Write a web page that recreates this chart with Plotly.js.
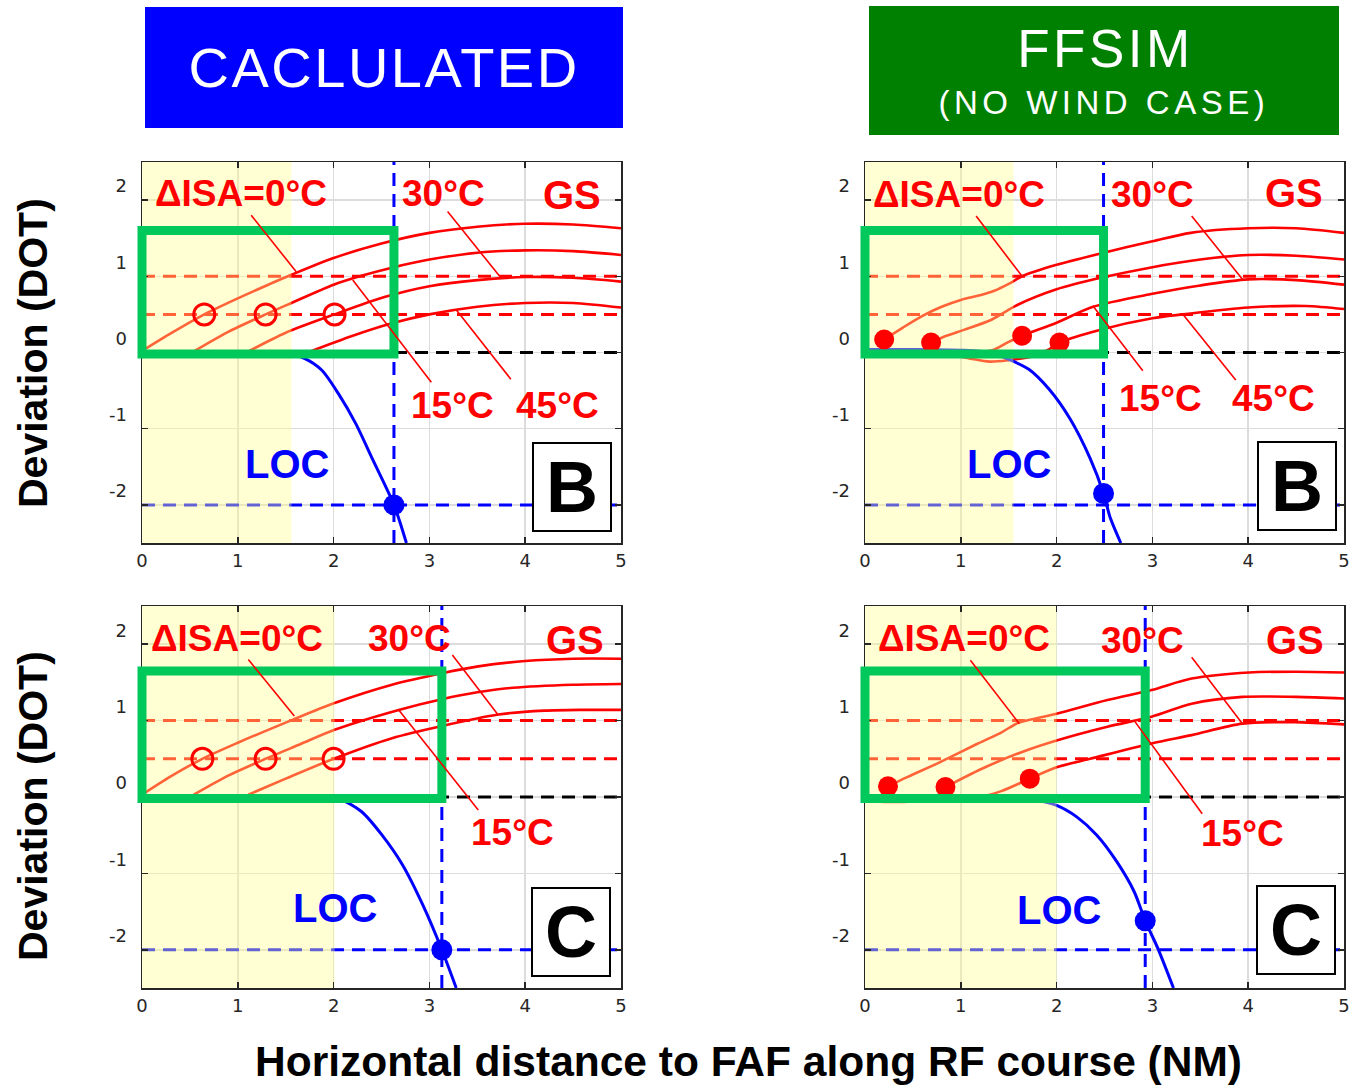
<!DOCTYPE html>
<html>
<head>
<meta charset="utf-8">
<script src="https://cdn.plot.ly/plotly-3.0.1.min.js"></script>
<style>
html, body { margin: 0; padding: 0; background: #ffffff; }
#chart { width: 1353px; height: 1087px; }
.annotation[data-index="0"] .annotation-text { letter-spacing: 2.5px; }
.annotation[data-index="1"] .annotation-text { letter-spacing: 3.5px; }
.annotation[data-index="2"] .annotation-text { letter-spacing: 4.5px; }
</style>
</head>
<body>
<div id="chart"></div>
<script>
// ---------------- DATA ----------------
const xTickVals = [0, 1, 2, 3, 4, 5];
const yTickVals = [-2, -1, 0, 1, 2];
const xRange = [0, 5];
const yRange = [-2.5, 2.5];
const gsRefLevels = [1.0, 0.5];   // red dashed GS reference levels (DOT)
const gsNullLevel = 0;            // black dashed
const locRefLevel = -2;           // blue dashed

// Panel B, calculated
const calcB_isa0_x  = [0, 0.3, 0.65, 1.0, 1.3, 1.56, 2.0, 2.5, 3.0, 3.5, 4.0, 4.5, 5.0];
const calcB_isa0_y  = [0.02, 0.25, 0.5, 0.71, 0.88, 1.02, 1.24, 1.43, 1.57, 1.65, 1.69, 1.68, 1.63];
const calcB_isa15_x = [0.55, 0.9, 1.29, 1.56, 2.0, 2.3, 2.63, 3.0, 3.5, 4.0, 4.5, 5.0];
const calcB_isa15_y = [0.02, 0.27, 0.5, 0.65, 0.89, 1.01, 1.12, 1.22, 1.31, 1.34, 1.33, 1.28];
const calcB_isa30_x = [1.12, 1.5, 2.01, 2.54, 3.0, 3.5, 4.0, 4.5, 5.0];
const calcB_isa30_y = [0.02, 0.26, 0.5, 0.73, 0.87, 0.95, 0.99, 0.98, 0.93];
const calcB_isa45_x = [1.77, 2.2, 2.6, 3.0, 3.5, 4.0, 4.5, 5.0];
const calcB_isa45_y = [0.02, 0.22, 0.38, 0.5, 0.6, 0.65, 0.65, 0.59];
const calcB_loc_x   = [0, 0.8, 1.5, 1.7, 1.875, 2.05, 2.23, 2.41, 2.63, 2.76];
const calcB_loc_y   = [0, 0, -0.01, -0.08, -0.23, -0.54, -0.93, -1.41, -2.0, -2.5];
const calcB_fix_x   = [2.63];
const calcB_fix_y   = [-2.0];
const calcB_mark_x  = [0.65, 1.29, 2.01];
const calcB_mark_y  = [0.5, 0.5, 0.5];
const calcB_yellowEnd = 1.56;
const calcB_boxTop = 1.6;

// Panel B, FFSIM
const simB_isa0_x  = [0.2, 0.4, 0.6, 0.8, 1.0, 1.2, 1.35, 1.5, 1.64, 2.0, 2.46, 3.0, 3.4, 4.0, 4.5, 5.0];
const simB_isa0_y  = [0.17, 0.33, 0.48, 0.6, 0.69, 0.75, 0.81, 0.9, 1.0, 1.15, 1.3, 1.46, 1.57, 1.63, 1.63, 1.57];
const simB_isa15_x = [0.69, 0.85, 1.04, 1.32, 1.6, 2.0, 2.46, 3.0, 3.5, 4.0, 4.5, 5.0];
const simB_isa15_y = [0.13, 0.22, 0.3, 0.43, 0.63, 0.83, 0.98, 1.12, 1.22, 1.28, 1.27, 1.22];
const simB_isa30_x = [0.6, 1.0, 1.33, 1.5, 1.64, 2.0, 2.38, 3.0, 3.5, 4.0, 4.5, 5.0];
const simB_isa30_y = [0.0, 0.0, 0.03, 0.14, 0.22, 0.39, 0.6, 0.77, 0.88, 0.96, 0.95, 0.89];
const simB_isa45_x = [0.9, 1.1, 1.3, 1.5, 1.75, 1.92, 2.03, 2.46, 3.0, 3.32, 4.0, 4.6, 5.0];
const simB_isa45_y = [-0.03, -0.08, -0.12, -0.1, -0.05, 0.04, 0.13, 0.3, 0.45, 0.5, 0.59, 0.61, 0.57];
const simB_loc_x   = [0, 0.5, 1.0, 1.3, 1.5, 1.71, 1.92, 2.14, 2.35, 2.49, 2.56, 2.67];
const simB_loc_y   = [0.04, 0.04, 0.03, 0.0, -0.09, -0.22, -0.48, -0.87, -1.39, -1.85, -2.17, -2.5];
const simB_fix_x   = [2.49];
const simB_fix_y   = [-1.85];
const simB_mark_x  = [0.2, 0.69, 1.64, 2.03];
const simB_mark_y  = [0.17, 0.13, 0.22, 0.13];
const simB_yellowEnd = 1.55;
const simB_boxTop = 1.6;

// Panel C, calculated
const calcC_isa0_x  = [0, 0.3, 0.63, 1.0, 1.57, 2.01, 2.61, 3.13, 3.51, 4.0, 4.5, 5.0];
const calcC_isa0_y  = [0.03, 0.27, 0.5, 0.71, 1.01, 1.23, 1.47, 1.62, 1.71, 1.78, 1.81, 1.81];
const calcC_isa15_x = [0.54, 0.9, 1.29, 1.65, 2.01, 2.68, 3.13, 3.5, 3.87, 4.5, 5.0];
const calcC_isa15_y = [0.03, 0.28, 0.5, 0.69, 0.88, 1.14, 1.28, 1.37, 1.43, 1.47, 1.48];
const calcC_isa30_x = [1.11, 1.5, 2.0, 2.61, 3.13, 3.72, 4.2, 4.59, 5.0];
const calcC_isa30_y = [0.03, 0.24, 0.5, 0.77, 0.93, 1.08, 1.13, 1.14, 1.14];
const calcC_loc_x   = [0, 1.0, 1.9, 2.07, 2.29, 2.5, 2.72, 2.93, 3.13, 3.28];
const calcC_loc_y   = [0, 0, 0, -0.03, -0.19, -0.49, -0.89, -1.41, -2.0, -2.5];
const calcC_fix_x   = [3.13];
const calcC_fix_y   = [-2.0];
const calcC_mark_x  = [0.63, 1.29, 2.0];
const calcC_mark_y  = [0.5, 0.5, 0.5];
const calcC_yellowEnd = 2.01;
const calcC_boxTop = 1.65;

// Panel C, FFSIM
const simC_isa0_x  = [0.24, 0.44, 0.79, 1.18, 1.43, 1.6, 2.0, 2.53, 2.99, 3.41, 4.01, 4.5, 5.0];
const simC_isa0_y  = [0.14, 0.26, 0.46, 0.7, 0.85, 0.97, 1.09, 1.27, 1.4, 1.55, 1.63, 1.64, 1.63];
const simC_isa15_x = [0.84, 1.22, 1.64, 2.0, 2.53, 2.99, 3.41, 3.94, 4.5, 5.0];
const simC_isa15_y = [0.13, 0.37, 0.59, 0.74, 0.92, 1.05, 1.22, 1.31, 1.31, 1.29];
const simC_isa30_x = [0, 0.2, 0.45, 0.8, 1.2, 1.43, 1.72, 2.0, 2.35, 2.99, 3.41, 3.94, 4.48, 5.0];
const simC_isa30_y = [-0.04, -0.065, -0.06, -0.03, 0.0, 0.08, 0.24, 0.39, 0.5, 0.7, 0.81, 0.96, 0.98, 0.95];
const simC_loc_x   = [0, 1.0, 1.6, 1.78, 2.0, 2.21, 2.42, 2.63, 2.81, 2.925, 3.06, 3.22];
const simC_loc_y   = [0, 0, -0.02, -0.04, -0.11, -0.26, -0.5, -0.85, -1.24, -1.62, -1.99, -2.5];
const simC_fix_x   = [2.925];
const simC_fix_y   = [-1.62];
const simC_mark_x  = [0.24, 0.84, 1.72];
const simC_mark_y  = [0.14, 0.13, 0.24];
const simC_yellowEnd = 2.0;
const simC_boxTop = 1.65;

const headerLeft = 'CACLULATED';
const headerRight = 'FFSIM';
const headerRightSub = '(NO WIND CASE)';
const yTitle = 'Deviation (DOT)';
const xTitle = 'Horizontal distance to FAF along RF course (NM)';

// ---------------- LAYOUT HELPERS ----------------
const W = 1353, H = 1087;
const colDomains = [[142 / W, 621 / W], [865 / W, 1344 / W]];
const rowDomains = [[1 - 543 / H, 1 - 162 / H], [1 - 988 / H, 1 - 606 / H]];

const RED = '#ff0000', SALMON_OVERLAY = 'rgba(255,255,141,0.39)';
const BLUE = '#0000ff', GREEN = 'rgb(0,200,90)';
const LBL_FONT = 'Liberation Sans, Arial, sans-serif';

const panels = [
  { ax: 1, col: 0, row: 0, letter: 'B', open: true,
    gs: [[calcB_isa0_x, calcB_isa0_y], [calcB_isa15_x, calcB_isa15_y], [calcB_isa30_x, calcB_isa30_y], [calcB_isa45_x, calcB_isa45_y]],
    loc: [calcB_loc_x, calcB_loc_y], fix: [calcB_fix_x, calcB_fix_y], mark: [calcB_mark_x, calcB_mark_y],
    yellowEnd: calcB_yellowEnd, boxTop: calcB_boxTop,
    labels: { isa0: [1.03, 2.09], t15: [3.24, -0.69], t30: [3.15, 2.09], t45: [4.34, -0.69], gs: [4.49, 2.07], loc: [1.51, -1.46], box: [4.49, -1.77] },
    pointers: [[1.14, 1.80, 1.61, 1.06], [3.19, 1.85, 3.74, 0.99], [2.2, 0.95, 3.02, -0.39], [3.28, 0.56, 3.85, -0.35]] },
  { ax: 2, col: 1, row: 0, letter: 'B', open: false,
    gs: [[simB_isa0_x, simB_isa0_y], [simB_isa15_x, simB_isa15_y], [simB_isa30_x, simB_isa30_y], [simB_isa45_x, simB_isa45_y]],
    loc: [simB_loc_x, simB_loc_y], fix: [simB_fix_x, simB_fix_y], mark: [simB_mark_x, simB_mark_y],
    yellowEnd: simB_yellowEnd, boxTop: simB_boxTop,
    labels: { isa0: [0.985, 2.07], t15: [3.08, -0.61], t30: [3.0, 2.07], t45: [4.26, -0.61], gs: [4.48, 2.09], loc: [1.5, -1.46], box: [4.51, -1.755] },
    pointers: [[1.16, 1.79, 1.64, 1.0], [3.41, 1.79, 3.94, 0.96], [2.38, 0.61, 2.9, -0.24], [3.32, 0.5, 3.87, -0.36]] },
  { ax: 3, col: 0, row: 1, letter: 'C', open: true,
    gs: [[calcC_isa0_x, calcC_isa0_y], [calcC_isa15_x, calcC_isa15_y], [calcC_isa30_x, calcC_isa30_y]],
    loc: [calcC_loc_x, calcC_loc_y], fix: [calcC_fix_x, calcC_fix_y], mark: [calcC_mark_x, calcC_mark_y],
    yellowEnd: calcC_yellowEnd, boxTop: calcC_boxTop,
    labels: { isa0: [0.99, 2.08], t15: [3.87, -0.47], t30: [2.79, 2.08], gs: [4.52, 2.06], loc: [2.01, -1.45], box: [4.48, -1.765] },
    pointers: [[1.11, 1.80, 1.59, 1.06], [3.24, 1.86, 3.72, 1.07], [2.68, 1.14, 3.51, -0.17]] },
  { ax: 4, col: 1, row: 1, letter: 'C', open: false,
    gs: [[simC_isa0_x, simC_isa0_y], [simC_isa15_x, simC_isa15_y], [simC_isa30_x, simC_isa30_y]],
    loc: [simC_loc_x, simC_loc_y], fix: [simC_fix_x, simC_fix_y], mark: [simC_mark_x, simC_mark_y],
    yellowEnd: simC_yellowEnd, boxTop: simC_boxTop,
    labels: { isa0: [1.03, 2.07], t15: [3.94, -0.48], t30: [2.9, 2.05], gs: [4.49, 2.05], loc: [2.02, -1.48], box: [4.5, -1.745] },
    pointers: [[1.10, 1.79, 1.61, 0.96], [3.41, 1.83, 3.94, 0.96], [2.81, 1.0, 3.52, -0.22]] }
];

function toPaper(p, x, y) {
  const dx = colDomains[p.col], dy = rowDomains[p.row];
  return [dx[0] + (x - xRange[0]) / (xRange[1] - xRange[0]) * (dx[1] - dx[0]),
          dy[0] + (y - yRange[0]) / (yRange[1] - yRange[0]) * (dy[1] - dy[0])];
}

const traces = [];
const shapes = [];
const annotations = [];

// header annotations first (indices 0..2 used by CSS letter spacing)
annotations.push({ xref: 'paper', yref: 'paper', x: 384 / W, y: 1 - 67 / H, text: headerLeft, showarrow: false,
  xanchor: 'center', yanchor: 'middle', font: { family: LBL_FONT, size: 56, color: '#ffffff' } });
annotations.push({ xref: 'paper', yref: 'paper', x: 1105 / W, y: 1 - 48 / H, text: headerRight, showarrow: false,
  xanchor: 'center', yanchor: 'middle', font: { family: LBL_FONT, size: 53, color: '#ffffff' } });
annotations.push({ xref: 'paper', yref: 'paper', x: 1104 / W, y: 1 - 102 / H, text: headerRightSub, showarrow: false,
  xanchor: 'center', yanchor: 'middle', font: { family: LBL_FONT, size: 33, color: '#ffffff' } });
annotations.push({ xref: 'paper', yref: 'paper', x: 33 / W, y: 1 - 353 / H, text: yTitle, showarrow: false, textangle: -90,
  xanchor: 'center', yanchor: 'middle', font: { family: LBL_FONT, size: 41, color: '#000000', weight: 'bold' } });
annotations.push({ xref: 'paper', yref: 'paper', x: 33 / W, y: 1 - 806 / H, text: yTitle, showarrow: false, textangle: -90,
  xanchor: 'center', yanchor: 'middle', font: { family: LBL_FONT, size: 41, color: '#000000', weight: 'bold' } });
annotations.push({ xref: 'paper', yref: 'paper', x: 748 / W, y: 1 - 1061 / H, text: xTitle, showarrow: false,
  xanchor: 'center', yanchor: 'middle', font: { family: LBL_FONT, size: 42.5, color: '#000000', weight: 'bold' } });

// header boxes
shapes.push({ type: 'rect', xref: 'paper', yref: 'paper', x0: 145 / W, x1: 623 / W, y0: 1 - 128 / H, y1: 1 - 7 / H,
  fillcolor: '#0000ff', line: { width: 0 }, layer: 'below' });
shapes.push({ type: 'rect', xref: 'paper', yref: 'paper', x0: 869 / W, x1: 1339 / W, y0: 1 - 135 / H, y1: 1 - 6 / H,
  fillcolor: '#008000', line: { width: 0 }, layer: 'below' });

const layout = {
  width: W, height: H, autosize: false,
  margin: { l: 0, r: 0, t: 0, b: 0 },
  paper_bgcolor: '#ffffff', plot_bgcolor: '#ffffff',
  showlegend: false,
  shapes: shapes, annotations: annotations
};

panels.forEach(p => {
  const xa = 'x' + (p.ax === 1 ? '' : p.ax), ya = 'y' + (p.ax === 1 ? '' : p.ax);
  const xKey = 'xaxis' + (p.ax === 1 ? '' : p.ax), yKey = 'yaxis' + (p.ax === 1 ? '' : p.ax);
  const axisCommon = {
    showline: true, linecolor: '#262626', linewidth: 1.5, mirror: 'ticks',
    ticks: 'inside', ticklen: 6, tickwidth: 1.5, tickcolor: '#262626',
    showgrid: true, gridcolor: '#dcdcdc', gridwidth: 1.5, zeroline: false,
    tickfont: { family: 'DejaVu Sans, Verdana, sans-serif', size: 18, color: '#262626' },
    fixedrange: true
  };
  layout[xKey] = Object.assign({}, axisCommon, {
    domain: colDomains[p.col], range: xRange, anchor: ya, tickvals: xTickVals, ticktext: xTickVals.map(String),
    ticklabelstandoff: 1
  });
  layout[yKey] = Object.assign({}, axisCommon, {
    domain: rowDomains[p.row], range: yRange, anchor: xa, tickvals: yTickVals, ticktext: yTickVals.map(String),
    ticklabelshift: -14, ticklabelstandoff: 10
  });

  const base = { xaxis: xa, yaxis: ya, hoverinfo: 'skip', showlegend: false };

  // reference dashed lines
  gsRefLevels.forEach(lv => traces.push(Object.assign({}, base, {
    type: 'scatter', mode: 'lines', x: xRange, y: [lv, lv],
    line: { color: RED, width: 3, dash: '13px,8px' } })));
  traces.push(Object.assign({}, base, { type: 'scatter', mode: 'lines', x: xRange, y: [gsNullLevel, gsNullLevel],
    line: { color: '#000000', width: 3, dash: '13px,8px' } }));
  traces.push(Object.assign({}, base, { type: 'scatter', mode: 'lines', x: xRange, y: [locRefLevel, locRefLevel],
    line: { color: BLUE, width: 3, dash: '13px,8px' } }));
  traces.push(Object.assign({}, base, { type: 'scatter', mode: 'lines', x: [p.fix[0][0], p.fix[0][0]], y: yRange,
    line: { color: BLUE, width: 3, dash: '13px,8px' } }));

  // GS curves
  p.gs.forEach(c => traces.push(Object.assign({}, base, {
    type: 'scatter', mode: 'lines', x: c[0], y: c[1],
    line: { color: RED, width: 2.6, shape: 'spline', smoothing: 0.8 } })));
  // LOC curve
  traces.push(Object.assign({}, base, { type: 'scatter', mode: 'lines', x: p.loc[0], y: p.loc[1],
    line: { color: BLUE, width: 3, shape: 'spline', smoothing: 0.8 } }));

  // translucent yellow region over the lines
  traces.push(Object.assign({}, base, { type: 'scatter', mode: 'lines',
    x: [xRange[0], p.yellowEnd, p.yellowEnd, xRange[0], xRange[0]],
    y: [yRange[0], yRange[0], yRange[1], yRange[1], yRange[0]],
    fill: 'toself', fillcolor: SALMON_OVERLAY, line: { width: 0 } }));

  // GS markers
  traces.push(Object.assign({}, base, { type: 'scatter', mode: 'markers', x: p.mark[0], y: p.mark[1], cliponaxis: false,
    marker: p.open ? { symbol: 'circle-open', size: 21, color: RED, line: { color: RED, width: 3 } }
                   : { symbol: 'circle', size: 20, color: RED, line: { width: 0 } } }));
  // LOC fix dot
  traces.push(Object.assign({}, base, { type: 'scatter', mode: 'markers', x: p.fix[0], y: p.fix[1], cliponaxis: false,
    marker: { symbol: 'circle', size: 21, color: BLUE, line: { width: 0 } } }));

  // green box (paper coordinates so the thick border is not clipped)
  const a = toPaper(p, xRange[0], gsNullLevel - 0.02), b = toPaper(p, p.fix[0][0], p.boxTop);
  shapes.push({ type: 'rect', xref: 'paper', yref: 'paper', x0: a[0], y0: a[1], x1: b[0], y1: b[1],
    line: { color: GREEN, width: 9 }, fillcolor: 'rgba(0,0,0,0)', layer: 'above' });

  // pointer lines
  p.pointers.forEach(q => shapes.push({ type: 'line', xref: xa, yref: ya, x0: q[0], y0: q[1], x1: q[2], y1: q[3],
    line: { color: RED, width: 1.6 }, layer: 'above' }));

  // labels
  const lab = (pos, text, size, color) => annotations.push({ xref: xa, yref: ya, x: pos[0], y: pos[1], text: text,
    showarrow: false, xanchor: 'center', yanchor: 'middle',
    font: { family: LBL_FONT, size: size, color: color, weight: 'bold' } });
  lab(p.labels.isa0, '\u0394ISA=0\u00b0C', 37, RED);
  lab(p.labels.t15, '15\u00b0C', 37, RED);
  lab(p.labels.t30, '30\u00b0C', 37, RED);
  if (p.labels.t45) lab(p.labels.t45, '45\u00b0C', 37, RED);
  lab(p.labels.gs, 'GS', 40, RED);
  lab(p.labels.loc, 'LOC', 40, BLUE);
  annotations.push({ xref: xa, yref: ya, x: p.labels.box[0], y: p.labels.box[1], text: p.letter, showarrow: false,
    xanchor: 'center', yanchor: 'middle', width: 76, height: 86, borderpad: 0,
    bgcolor: '#ffffff', bordercolor: '#000000', borderwidth: 2,
    font: { family: LBL_FONT, size: 72, color: '#000000', weight: 'bold' } });
});

Plotly.newPlot('chart', traces, layout, { displayModeBar: false, staticPlot: true });
</script>
</body>
</html>
